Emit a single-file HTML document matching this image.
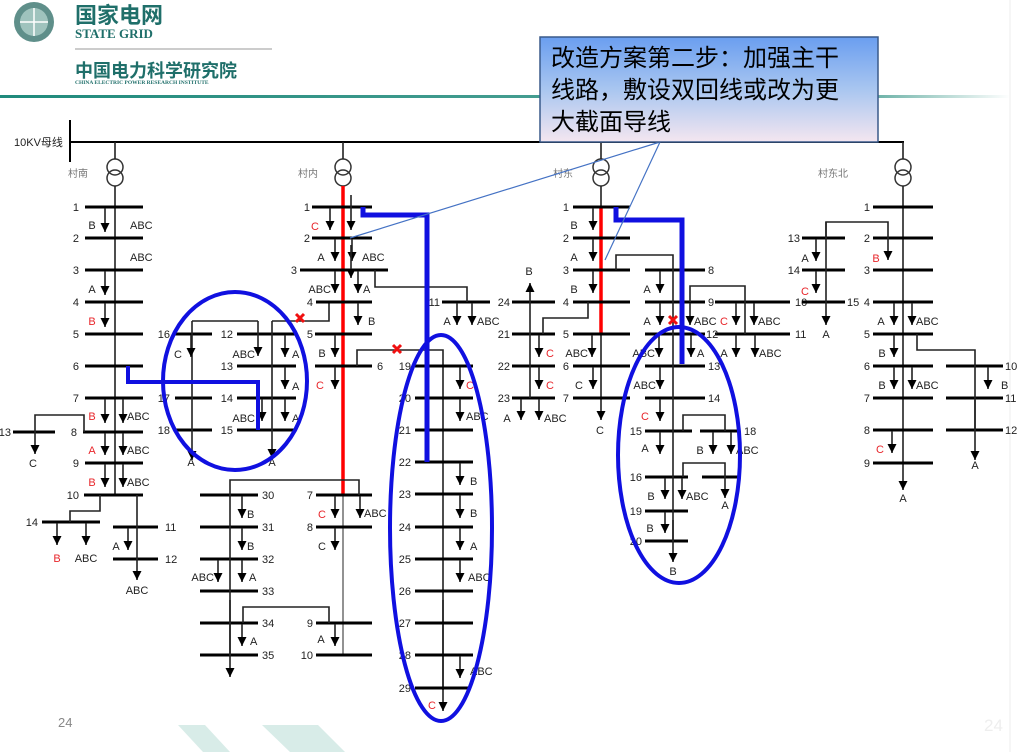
<!DOCTYPE html>
<html><head><meta charset="utf-8"><style>
html,body{margin:0;padding:0;background:#fff;}
body{width:1022px;height:752px;overflow:hidden;position:relative;font-family:"Liberation Sans","Noto Sans CJK SC",sans-serif;}
svg{position:absolute;left:0;top:0;}
.b{stroke:#000;stroke-width:3;}
.t{stroke:#222;stroke-width:1.6;fill:none;}
.l{stroke:#222;stroke-width:1.6;marker-end:url(#ar);}
.g{stroke:#777;stroke-width:1.6;fill:none;}
text{font-family:"Liberation Sans","Noto Sans CJK SC",sans-serif;font-size:11px;fill:#222;}
.r{fill:#e8262b;}
.n{text-anchor:end;}
.m{text-anchor:middle;}
.cn{font-size:10px;fill:#777;}
</style></head><body>
<svg width="1022" height="752" viewBox="0 0 1022 752">
<defs>
<marker id="ar" viewBox="0 -5 10 10" refX="9" refY="0" markerWidth="10" markerHeight="10" markerUnits="userSpaceOnUse" orient="auto"><path d="M0,-4.5 L9,0 L0,4.5 z" fill="#000"/></marker>
<linearGradient id="bx" x1="0" y1="0" x2="0" y2="1"><stop offset="0" stop-color="#6a9ef0"/><stop offset="0.5" stop-color="#a9c6f0"/><stop offset="1" stop-color="#f4e6f0"/></linearGradient>
<linearGradient id="tl" x1="0" y1="0" x2="1" y2="0"><stop offset="0" stop-color="#1f8a7c"/><stop offset="0.85" stop-color="#5aa89c"/><stop offset="1" stop-color="#ffffff"/></linearGradient>
</defs>
<!-- header -->
<circle cx="34" cy="22" r="20" fill="#5f8f8a"/><circle cx="34" cy="22" r="14" fill="#9fc3bd"/><path d="M20,22 H48 M34,8 V36" stroke="#fff" stroke-width="1.5"/>
<text x="75" y="23" style="font-size:22px;font-weight:bold;fill:#1f6f6a">国家电网</text>
<text x="75" y="38" style="font-size:13px;font-weight:bold;fill:#1f6f6a;font-family:'Liberation Serif',serif">STATE GRID</text>
<line x1="75" y1="49" x2="272" y2="49" stroke="#999" stroke-width="1"/>
<text x="75" y="77" style="font-size:18px;font-weight:bold;fill:#1f6f6a">中国电力科学研究院</text>
<text x="75" y="84" style="font-size:5.5px;font-weight:bold;fill:#1f6f6a;font-family:'Liberation Serif',serif">CHINA ELECTRIC POWER RESEARCH INSTITUTE</text>
<rect x="0" y="95" width="1010" height="3" fill="url(#tl)"/>
<line x1="1010" y1="0" x2="1010" y2="752" stroke="#eee" stroke-width="1"/>
<!-- bottom -->
<text x="58" y="727" style="font-size:13px;fill:#888">24</text>
<text x="984" y="731" style="font-size:17px;fill:#eee">24</text>
<polygon points="178,725 205,725 230,752 203,752" fill="#d8ece8"/>
<polygon points="262,725 318,725 345,752 290,752" fill="#d8ece8"/>
<!-- bus -->
<line x1="70" y1="120" x2="70" y2="162" stroke="#000" stroke-width="2"/>
<line x1="70" y1="142" x2="904" y2="142" stroke="#000" stroke-width="2"/>
<text x="14" y="146" style="font-size:11px">10KV母线</text>
<!-- transformers -->
<g fill="none" stroke="#333" stroke-width="1.5">
<circle cx="115" cy="167" r="8"/><circle cx="115" cy="178" r="8"/>
<circle cx="343" cy="167" r="8"/><circle cx="343" cy="178" r="8"/>
<circle cx="601" cy="167" r="8"/><circle cx="601" cy="178" r="8"/>
<circle cx="903" cy="167" r="8"/><circle cx="903" cy="178" r="8"/>
</g>
<g stroke="#222" stroke-width="1.6">
<line x1="115" y1="142" x2="115" y2="159"/><line x1="343" y1="142" x2="343" y2="159"/><line x1="601" y1="142" x2="601" y2="159"/><line x1="903" y1="142" x2="903" y2="159"/>
</g>
<text x="68" y="177" class="cn">村南</text><text x="298" y="177" class="cn">村内</text><text x="553" y="177" class="cn">村东</text><text x="818" y="177" class="cn">村东北</text>

<!-- ===== Feeder 1 ===== -->
<line class="t" x1="115" y1="186" x2="115" y2="495"/>
<g class="b">
<line x1="85" y1="207" x2="143" y2="207"/><line x1="85" y1="238" x2="143" y2="238"/><line x1="85" y1="270" x2="143" y2="270"/><line x1="85" y1="302" x2="143" y2="302"/><line x1="85" y1="334" x2="143" y2="334"/><line x1="85" y1="366" x2="143" y2="366"/><line x1="85" y1="398" x2="143" y2="398"/><line x1="83" y1="432" x2="143" y2="432"/><line x1="85" y1="463" x2="143" y2="463"/><line x1="84" y1="495" x2="143" y2="495"/>
<line x1="13" y1="432" x2="55" y2="432"/><line x1="42" y1="522" x2="100" y2="522"/><line x1="113" y1="527" x2="158" y2="527"/><line x1="113" y1="559" x2="158" y2="559"/>
</g>
<g>
<text x="79" y="211" class="n">1</text><text x="79" y="242" class="n">2</text><text x="79" y="274" class="n">3</text><text x="79" y="306" class="n">4</text><text x="79" y="338" class="n">5</text><text x="79" y="370" class="n">6</text><text x="79" y="402" class="n">7</text><text x="77" y="436" class="n">8</text><text x="79" y="467" class="n">9</text><text x="79" y="499" class="n">10</text><text x="11" y="436" class="n">13</text><text x="38" y="526" class="n">14</text><text x="165" y="531">11</text><text x="165" y="563">12</text>
</g>
<line class="l" x1="105" y1="208" x2="105" y2="232"/><text x="92" y="229" class="m">B</text>
<text x="130" y="229">ABC</text><text x="130" y="261">ABC</text>
<line class="l" x1="105" y1="271" x2="105" y2="295"/><text x="92" y="293" class="m">A</text>
<line class="l" x1="105" y1="303" x2="105" y2="327"/><text x="92" y="325" class="m r">B</text>
<line class="l" x1="105" y1="399" x2="105" y2="423"/><text x="92" y="420" class="m r">B</text>
<line class="l" x1="123" y1="399" x2="123" y2="423"/><text x="127" y="420">ABC</text>
<line class="l" x1="105" y1="433" x2="105" y2="455"/><text x="92" y="454" class="m r">A</text>
<line class="l" x1="123" y1="433" x2="123" y2="455"/><text x="127" y="454">ABC</text>
<line class="l" x1="105" y1="464" x2="105" y2="487"/><text x="92" y="486" class="m r">B</text>
<line class="l" x1="123" y1="464" x2="123" y2="487"/><text x="127" y="486">ABC</text>
<path class="t" d="M84,432 V415 H35 V432"/><line class="l" x1="35" y1="432" x2="35" y2="454"/><text x="33" y="467" class="m">C</text>
<path class="t" d="M100,495 V511 H70 V522"/>
<line class="l" x1="57" y1="523" x2="57" y2="545"/><text x="57" y="562" class="m r">B</text>
<line class="l" x1="86" y1="523" x2="86" y2="545"/><text x="86" y="562" class="m">ABC</text>
<line class="l" x1="137" y1="495" x2="137" y2="580"/><text x="137" y="594" class="m">ABC</text>
<line class="l" x1="128" y1="528" x2="128" y2="550"/><text x="116" y="550" class="m">A</text>

<!-- left ellipse contents -->
<g class="b">
<line x1="175" y1="334" x2="212" y2="334"/><line x1="237" y1="334" x2="296" y2="334"/><line x1="237" y1="366" x2="296" y2="366"/><line x1="175" y1="398" x2="212" y2="398"/><line x1="237" y1="398" x2="296" y2="398"/><line x1="175" y1="430" x2="212" y2="430"/><line x1="237" y1="430" x2="296" y2="430"/>
</g>
<text x="170" y="338" class="n">16</text><text x="233" y="338" class="n">12</text><text x="233" y="370" class="n">13</text><text x="170" y="402" class="n">17</text><text x="233" y="402" class="n">14</text><text x="170" y="434" class="n">18</text><text x="233" y="434" class="n">15</text>
<path class="t" d="M192,321 H258"/><line class="l" x1="258" y1="321" x2="258" y2="356"/><text x="255" y="358" class="n">ABC</text>
<line class="l" x1="192" y1="321" x2="192" y2="460"/><text x="191" y="466" class="m">A</text>
<line class="l" x1="191" y1="335" x2="191" y2="357"/><text x="178" y="358" class="m">C</text>
<path class="t" d="M272,321 H329 V302"/>
<line class="l" x1="272" y1="321" x2="272" y2="458"/><text x="272" y="466" class="m">A</text>
<line class="l" x1="285" y1="335" x2="285" y2="357"/><text x="292" y="358">A</text>
<line class="l" x1="285" y1="367" x2="285" y2="389"/><text x="292" y="390">A</text>
<line class="l" x1="285" y1="399" x2="285" y2="421"/><text x="292" y="422">A</text>
<line class="l" x1="262" y1="399" x2="262" y2="421"/><text x="255" y="422" class="n">ABC</text>

<!-- ===== Feeder 2 ===== -->
<line x1="343" y1="186" x2="343" y2="495" stroke="#f00" stroke-width="3.5"/>
<line class="g" x1="343" y1="495" x2="343" y2="655"/>
<g class="b">
<line x1="312" y1="207" x2="372" y2="207"/><line x1="312" y1="238" x2="372" y2="238"/><line x1="300" y1="270" x2="388" y2="270"/><line x1="316" y1="302" x2="372" y2="302"/><line x1="315" y1="334" x2="372" y2="334"/><line x1="315" y1="366" x2="372" y2="366"/><line x1="316" y1="495" x2="372" y2="495"/><line x1="316" y1="527" x2="372" y2="527"/><line x1="316" y1="623" x2="372" y2="623"/><line x1="316" y1="655" x2="372" y2="655"/>
<line x1="442" y1="302" x2="490" y2="302"/>
<line x1="200" y1="495" x2="258" y2="495"/><line x1="200" y1="527" x2="258" y2="527"/><line x1="200" y1="559" x2="258" y2="559"/><line x1="200" y1="591" x2="258" y2="591"/><line x1="200" y1="623" x2="258" y2="623"/><line x1="200" y1="655" x2="258" y2="655"/>
</g>
<text x="310" y="211" class="n">1</text><text x="310" y="242" class="n">2</text><text x="297" y="274" class="n">3</text><text x="313" y="306" class="n">4</text><text x="313" y="338" class="n">5</text><text x="377" y="370">6</text><text x="313" y="499" class="n">7</text><text x="313" y="531" class="n">8</text><text x="313" y="627" class="n">9</text><text x="313" y="659" class="n">10</text><text x="440" y="306" class="n">11</text>
<text x="262" y="499">30</text><text x="262" y="531">31</text><text x="262" y="563">32</text><text x="262" y="595">33</text><text x="262" y="627">34</text><text x="262" y="659">35</text>
<line class="l" x1="330" y1="208" x2="330" y2="230"/><text x="315" y="230" class="m r">C</text>
<line class="l" x1="351" y1="195" x2="351" y2="230"/>
<line class="l" x1="335" y1="239" x2="335" y2="261"/><text x="321" y="261" class="m">A</text>
<line class="l" x1="352" y1="239" x2="352" y2="261"/><text x="362" y="261">ABC</text>
<line class="l" x1="351" y1="245" x2="351" y2="278" style="stroke:#222"/>
<line class="l" x1="335" y1="271" x2="335" y2="293"/><text x="331" y="293" class="n">ABC</text>
<line class="l" x1="358" y1="271" x2="358" y2="293"/><text x="363" y="293">A</text>
<line class="l" x1="358" y1="303" x2="358" y2="325"/><text x="368" y="325">B</text>
<line class="l" x1="335" y1="335" x2="335" y2="357"/><text x="322" y="357" class="m">B</text>
<line class="l" x1="335" y1="367" x2="335" y2="389"/><text x="320" y="389" class="m r">C</text>
<path class="t" d="M375,270 V287 H467 V302"/>
<line class="l" x1="457" y1="303" x2="457" y2="325"/><text x="447" y="325" class="m">A</text>
<line class="l" x1="472" y1="303" x2="472" y2="325"/><text x="477" y="325">ABC</text>
<path class="t" d="M357,366 V350 H443 V690"/>
<line class="l" x1="443" y1="600" x2="443" y2="711"/>
<path class="t" d="M359,495 V480 H230 V655"/><line class="l" x1="230" y1="600" x2="230" y2="677"/>
<line class="l" x1="335" y1="496" x2="335" y2="518"/><text x="322" y="518" class="m r">C</text>
<line class="l" x1="360" y1="496" x2="360" y2="518"/><text x="364" y="517">ABC</text>
<line class="l" x1="335" y1="528" x2="335" y2="550"/><text x="322" y="550" class="m">C</text>
<path class="t" d="M243,623 V607 H329 V623"/>
<line class="l" x1="335" y1="624" x2="335" y2="646"/><text x="321" y="643" class="m">A</text>
<line class="l" x1="242" y1="496" x2="242" y2="518"/><text x="247" y="518">B</text>
<line class="l" x1="242" y1="528" x2="242" y2="550"/><text x="247" y="550">B</text>
<line class="l" x1="218" y1="560" x2="218" y2="582"/><text x="214" y="581" class="n">ABC</text>
<line class="l" x1="242" y1="560" x2="242" y2="582"/><text x="249" y="581">A</text>
<line class="l" x1="242" y1="624" x2="242" y2="646"/><text x="250" y="645">A</text>

<!-- middle ellipse -->
<g class="b">
<line x1="415" y1="366" x2="473" y2="366"/><line x1="415" y1="398" x2="473" y2="398"/><line x1="415" y1="430" x2="473" y2="430"/><line x1="415" y1="462" x2="473" y2="462"/><line x1="415" y1="494" x2="473" y2="494"/><line x1="415" y1="527" x2="473" y2="527"/><line x1="415" y1="559" x2="473" y2="559"/><line x1="415" y1="591" x2="473" y2="591"/><line x1="415" y1="623" x2="473" y2="623"/><line x1="415" y1="655" x2="473" y2="655"/><line x1="415" y1="688" x2="470" y2="688"/>
</g>
<text x="411" y="370" class="n">19</text><text x="411" y="402" class="n">20</text><text x="411" y="434" class="n">21</text><text x="411" y="466" class="n">22</text><text x="411" y="498" class="n">23</text><text x="411" y="531" class="n">24</text><text x="411" y="563" class="n">25</text><text x="411" y="595" class="n">26</text><text x="411" y="627" class="n">27</text><text x="411" y="659" class="n">28</text><text x="411" y="692" class="n">29</text>
<line class="l" x1="460" y1="367" x2="460" y2="389"/><text x="466" y="389" class="r">C</text>
<line class="l" x1="460" y1="399" x2="460" y2="421"/><text x="466" y="420">ABC</text>
<line class="l" x1="460" y1="463" x2="460" y2="485"/><text x="470" y="485">B</text>
<line class="l" x1="460" y1="495" x2="460" y2="518"/><text x="470" y="517">B</text>
<line class="l" x1="460" y1="528" x2="460" y2="550"/><text x="470" y="550">A</text>
<line class="l" x1="460" y1="560" x2="460" y2="582"/><text x="468" y="581">ABC</text>
<line class="l" x1="460" y1="656" x2="460" y2="678"/><text x="470" y="675">ABC</text>
<text x="432" y="709" class="m r">C</text>

<!-- ===== Feeder 3 ===== -->
<line class="l" x1="601" y1="186" x2="601" y2="420"/><text x="600" y="434" class="m">C</text>
<line x1="601" y1="207" x2="601" y2="334" stroke="#f00" stroke-width="3.5"/>
<g class="b">
<line x1="573" y1="207" x2="630" y2="207"/><line x1="573" y1="238" x2="630" y2="238"/><line x1="573" y1="270" x2="630" y2="270"/><line x1="573" y1="302" x2="630" y2="302"/><line x1="573" y1="334" x2="630" y2="334"/><line x1="573" y1="366" x2="630" y2="366"/><line x1="573" y1="398" x2="630" y2="398"/>
<line x1="512" y1="302" x2="555" y2="302"/><line x1="512" y1="334" x2="555" y2="334"/><line x1="512" y1="366" x2="555" y2="366"/><line x1="512" y1="398" x2="555" y2="398"/>
<line x1="645" y1="270" x2="705" y2="270"/><line x1="645" y1="302" x2="705" y2="302"/><line x1="645" y1="334" x2="705" y2="334"/><line x1="645" y1="366" x2="705" y2="366"/><line x1="645" y1="398" x2="705" y2="398"/><line x1="645" y1="431" x2="692" y2="431"/><line x1="700" y1="431" x2="740" y2="431"/><line x1="645" y1="477" x2="688" y2="477"/><line x1="702" y1="477" x2="740" y2="477"/><line x1="645" y1="511" x2="688" y2="511"/><line x1="645" y1="541" x2="688" y2="541"/>
<line x1="715" y1="302" x2="790" y2="302"/><line x1="715" y1="334" x2="790" y2="334"/>
</g>
<text x="569" y="211" class="n">1</text><text x="569" y="242" class="n">2</text><text x="569" y="274" class="n">3</text><text x="569" y="306" class="n">4</text><text x="569" y="338" class="n">5</text><text x="569" y="370" class="n">6</text><text x="569" y="402" class="n">7</text>
<text x="510" y="306" class="n">24</text><text x="510" y="338" class="n">21</text><text x="510" y="370" class="n">22</text><text x="510" y="402" class="n">23</text>
<text x="708" y="274">8</text><text x="708" y="306">9</text><text x="706" y="338">12</text><text x="708" y="370">13</text><text x="708" y="402">14</text><text x="642" y="435" class="n">15</text><text x="744" y="435">18</text><text x="642" y="481" class="n">16</text><text x="642" y="515" class="n">19</text><text x="642" y="545" class="n">20</text>
<text x="795" y="306">10</text><text x="795" y="338">11</text>
<line class="l" x1="593" y1="208" x2="593" y2="230"/><text x="574" y="229" class="m">B</text>
<line class="l" x1="593" y1="239" x2="593" y2="261"/><text x="574" y="261" class="m">A</text>
<line class="l" x1="593" y1="271" x2="593" y2="293"/><text x="574" y="293" class="m">B</text>
<line class="l" x1="592" y1="335" x2="592" y2="357"/><text x="588" y="357" class="n">ABC</text>
<line class="l" x1="593" y1="367" x2="593" y2="389"/><text x="579" y="389" class="m">C</text>
<line class="l" x1="530" y1="398" x2="530" y2="283"/><text x="529" y="275" class="m">B</text>
<path class="t" d="M588,302 V318 H543 V334"/>
<line class="l" x1="539" y1="335" x2="539" y2="357"/><text x="550" y="357" class="m r">C</text>
<line class="l" x1="539" y1="367" x2="539" y2="389"/><text x="550" y="389" class="m r">C</text>
<line class="l" x1="521" y1="399" x2="521" y2="420"/><text x="507" y="422" class="m">A</text>
<line class="l" x1="539" y1="399" x2="539" y2="420"/><text x="544" y="422">ABC</text>
<path class="t" d="M616,270 V255 H673 V541"/>
<line class="l" x1="673" y1="520" x2="673" y2="562"/><text x="673" y="575" class="m">B</text>
<line class="l" x1="660" y1="271" x2="660" y2="293"/><text x="647" y="293" class="m">A</text>
<line class="l" x1="660" y1="303" x2="660" y2="325"/><text x="647" y="325" class="m">A</text>
<line class="l" x1="690" y1="303" x2="690" y2="325"/><text x="694" y="325">ABC</text>
<line class="l" x1="659" y1="335" x2="659" y2="357"/><text x="655" y="357" class="n">ABC</text>
<line class="l" x1="691" y1="335" x2="691" y2="357"/><text x="697" y="357">A</text>
<line class="l" x1="660" y1="367" x2="660" y2="389"/><text x="656" y="389" class="n">ABC</text>
<line class="l" x1="660" y1="399" x2="660" y2="421"/><text x="645" y="420" class="m r">C</text>
<line class="l" x1="660" y1="432" x2="660" y2="454"/><text x="645" y="452" class="m">A</text>
<path class="t" d="M690,302 V286 H745 V334"/>
<line class="l" x1="736" y1="303" x2="736" y2="325"/><text x="724" y="325" class="m r">C</text>
<line class="l" x1="754" y1="303" x2="754" y2="325"/><text x="758" y="325">ABC</text>
<line class="l" x1="736" y1="335" x2="736" y2="357"/><text x="724" y="357" class="m">A</text>
<line class="l" x1="755" y1="335" x2="755" y2="357"/><text x="759" y="357">ABC</text>
<path class="t" d="M683,431 V415 H725 V431"/>
<line class="l" x1="713" y1="432" x2="713" y2="454"/><text x="700" y="454" class="m">B</text>
<line class="l" x1="731" y1="432" x2="731" y2="454"/><text x="736" y="454">ABC</text>
<path class="t" d="M683,477 V463 H725 V477"/>
<line class="l" x1="725" y1="477" x2="725" y2="498"/><text x="725" y="509" class="m">A</text>
<line class="l" x1="665" y1="478" x2="665" y2="499"/><text x="651" y="500" class="m">B</text>
<line class="l" x1="682" y1="478" x2="682" y2="499"/><text x="686" y="500">ABC</text>
<line class="l" x1="665" y1="512" x2="665" y2="533"/><text x="650" y="532" class="m">B</text>

<!-- ===== Feeder 4 ===== -->
<line class="l" x1="903" y1="186" x2="903" y2="490"/><text x="903" y="502" class="m">A</text>
<g class="b">
<line x1="873" y1="207" x2="933" y2="207"/><line x1="873" y1="238" x2="933" y2="238"/><line x1="873" y1="270" x2="933" y2="270"/><line x1="873" y1="302" x2="933" y2="302"/><line x1="873" y1="334" x2="933" y2="334"/><line x1="873" y1="366" x2="933" y2="366"/><line x1="873" y1="398" x2="933" y2="398"/><line x1="873" y1="430" x2="933" y2="430"/><line x1="873" y1="463" x2="933" y2="463"/>
<line x1="802" y1="238" x2="845" y2="238"/><line x1="802" y1="270" x2="845" y2="270"/><line x1="802" y1="302" x2="845" y2="302"/>
<line x1="946" y1="366" x2="1003" y2="366"/><line x1="946" y1="398" x2="1003" y2="398"/><line x1="946" y1="430" x2="1003" y2="430"/>
</g>
<text x="870" y="211" class="n">1</text><text x="870" y="242" class="n">2</text><text x="870" y="274" class="n">3</text><text x="870" y="306" class="n">4</text><text x="870" y="338" class="n">5</text><text x="870" y="370" class="n">6</text><text x="870" y="402" class="n">7</text><text x="870" y="434" class="n">8</text><text x="870" y="467" class="n">9</text>
<text x="800" y="242" class="n">13</text><text x="800" y="274" class="n">14</text><text x="847" y="306">15</text>
<text x="1005" y="370">10</text><text x="1005" y="402">11</text><text x="1005" y="434">12</text>
<path class="t" d="M826,238 V222 H888 V238"/><line class="l" x1="888" y1="238" x2="888" y2="260"/><text x="876" y="262" class="m r">B</text>
<line class="l" x1="826" y1="222" x2="826" y2="325"/><text x="826" y="338" class="m">A</text>
<line class="l" x1="816" y1="239" x2="816" y2="261"/><text x="805" y="262" class="m">A</text>
<line class="l" x1="816" y1="271" x2="816" y2="293"/><text x="805" y="295" class="m r">C</text>
<line class="l" x1="894" y1="303" x2="894" y2="325"/><text x="881" y="325" class="m">A</text>
<line class="l" x1="912" y1="303" x2="912" y2="325"/><text x="916" y="325">ABC</text>
<line class="l" x1="894" y1="335" x2="894" y2="357"/><text x="882" y="357" class="m">B</text>
<line class="l" x1="894" y1="367" x2="894" y2="389"/><text x="882" y="389" class="m">B</text>
<line class="l" x1="912" y1="367" x2="912" y2="389"/><text x="916" y="389">ABC</text>
<line class="l" x1="892" y1="431" x2="892" y2="453"/><text x="880" y="453" class="m r">C</text>
<path class="t" d="M917,334 V350 H975 V430"/>
<line class="l" x1="975" y1="400" x2="975" y2="460"/><text x="975" y="469" class="m">A</text>
<line class="l" x1="988" y1="367" x2="988" y2="389"/><text x="1001" y="389">B</text>

<!-- blue routes -->
<g fill="none" stroke="#1010e0" stroke-linejoin="miter">
<path d="M128,366 V382 H258 V430" stroke-width="4"/>
<path d="M363,207 V215 H427 V462" stroke-width="5"/>
<path d="M616,207 V220 H682 V364" stroke-width="5"/>
<ellipse cx="235" cy="381" rx="72" ry="89" stroke-width="4"/>
<ellipse cx="441" cy="528" rx="51" ry="193" stroke-width="4"/>
<ellipse cx="679" cy="455" rx="61" ry="128" stroke-width="4"/>
</g>
<!-- red X -->
<g stroke="#f01010" stroke-width="3">
<path d="M296,314 l8,8 M304,314 l-8,8"/>
<path d="M393,345 l8,8 M401,345 l-8,8"/>
<path d="M669,316 l8,8 M677,316 l-8,8"/>
</g>
<!-- callout -->
<g stroke="#4472c4" stroke-width="1.2">
<line x1="660" y1="142" x2="350" y2="238"/>
<line x1="660" y1="142" x2="605" y2="260"/>
</g>
<rect x="540" y="37" width="338" height="105" fill="url(#bx)" stroke="#3a5a8a" stroke-width="1.5"/>
<text x="551" y="66" style="font-size:24px;fill:#000">改造方案第二步：加强主干</text>
<text x="551" y="98" style="font-size:24px;fill:#000">线路，敷设双回线或改为更</text>
<text x="551" y="130" style="font-size:24px;fill:#000">大截面导线</text>
</svg>
</body></html>
